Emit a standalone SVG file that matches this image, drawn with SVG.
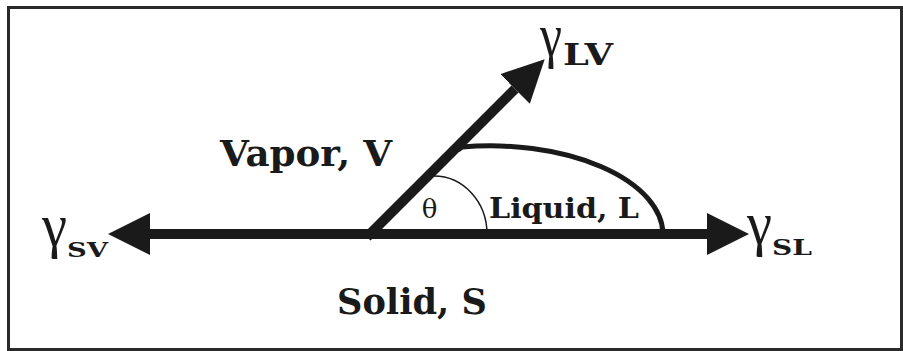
<svg xmlns="http://www.w3.org/2000/svg" width="903" height="351" viewBox="0 0 903 351">
  <style>
    .lbl { font-family: "DejaVu Serif", "Liberation Serif", serif; font-weight: bold; fill: #1a1a1a; }
    .gam { font-family: "Liberation Serif", "DejaVu Serif", serif; font-weight: normal; fill: #1a1a1a; }
    .sub { font-family: "DejaVu Serif", "Liberation Serif", serif; font-weight: bold; fill: #1a1a1a; }
    .vec { stroke: #1a1a1a; stroke-width: 10; fill: none; }
    .thick-arc { stroke: #1a1a1a; stroke-width: 5; fill: none; }
    .thin-arc { stroke: #1a1a1a; stroke-width: 1.5; fill: none; }
  </style>
  <defs>
    <marker id="head" markerUnits="userSpaceOnUse" markerWidth="44" markerHeight="44" viewBox="0 -22 44 44" refX="0" refY="0" orient="auto-start-reverse">
      <path d="M0,-21 L42,0 L0,21 Z" fill="#1a1a1a"/>
    </marker>
  </defs>
  <rect id="frame" x="8.5" y="7.5" width="893" height="342" fill="#ffffff" stroke="#2a2a2a" stroke-width="3"/>

  <g id="connectors">
    <line class="vec" x1="150" y1="234" x2="707" y2="234" marker-start="url(#head)" marker-end="url(#head)"/>
    <line class="vec" x1="367" y1="237" x2="515" y2="89" marker-end="url(#head)"/>
    <path class="thick-arc" d="M458,150 L462,147 A173,89 0 0 1 663,234"/>
    <path class="thin-arc" d="M434,176 A53,58 0 0 1 487,234"/>
  </g>

  <g id="vapor">
    <text class="lbl" x="220" y="166" font-size="35" textLength="172" lengthAdjust="spacingAndGlyphs">Vapor, V</text>
  </g>
  <g id="solid">
    <text class="lbl" x="337" y="314" font-size="35" textLength="150" lengthAdjust="spacingAndGlyphs">Solid, S</text>
  </g>
  <g id="liquid">
    <text class="lbl" x="489" y="218" font-size="28" textLength="150" lengthAdjust="spacingAndGlyphs">Liquid, L</text>
  </g>
  <g id="theta">
    <text x="429.5" y="218" font-size="26" text-anchor="middle" style="font-family:'DejaVu Serif','Liberation Serif',serif;fill:#1a1a1a">θ</text>
  </g>
  <g id="gamma-sv">
    <text class="gam" x="42" y="246" font-size="62" textLength="25" lengthAdjust="spacingAndGlyphs">γ</text>
    <text class="sub" x="67" y="257" font-size="21" textLength="41" lengthAdjust="spacingAndGlyphs">SV</text>
  </g>
  <g id="gamma-lv">
    <text class="gam" x="540" y="56" font-size="62" textLength="22" lengthAdjust="spacingAndGlyphs">γ</text>
    <text class="sub" x="563" y="65" font-size="30" textLength="50" lengthAdjust="spacingAndGlyphs">LV</text>
  </g>
  <g id="gamma-sl">
    <text class="gam" x="747" y="244" font-size="62" textLength="25" lengthAdjust="spacingAndGlyphs">γ</text>
    <text class="sub" x="772" y="255" font-size="23" textLength="40" lengthAdjust="spacingAndGlyphs">SL</text>
  </g>
</svg>
